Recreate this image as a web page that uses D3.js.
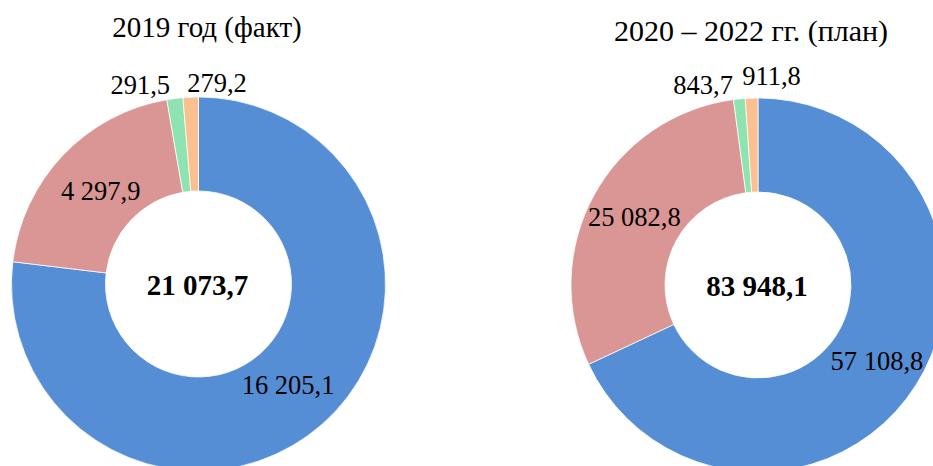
<!DOCTYPE html>
<html>
<head>
<meta charset="utf-8">
<script src="https://cdn.jsdelivr.net/npm/d3@7"></script>
<style>
  body { margin: 0; background: #fff; }
  text { font-family: "Liberation Serif", "Times New Roman", serif; fill: #000; }
</style>
</head>
<body>
<div id="chart"></div>
<script>
// данные
const titles = ["2019 год (факт)", "2020 – 2022 гг. (план)"];
const categories = ["Категория 1", "Категория 2", "Категория 3", "Категория 4"];
const values2019 = [16205.1, 4297.9, 291.5, 279.2];
const values2020 = [57108.8, 25082.8, 843.7, 911.8];
const totals = ["21 073,7", "83 948,1"];

const colors = ["#558ED5", "#D99694", "#8FE3B1", "#FAC090"];
const labelPlace = ["inside", "inside", "outside-end", "outside-start"];

const width = 933, height = 466;
const outerR = 187, innerR = 93;

const ru = d3.formatLocale({ decimal: ",", thousands: " ", grouping: [3] });
const fmt = ru.format(",.1f");

const svg = d3.select("#chart")
    .append("svg")
    .attr("width", width)
    .attr("height", height);

const xScale = d3.scalePoint()
    .domain(titles)
    .range([198.5, 758]);

const charts = [
    { title: titles[0], values: values2019, total: totals[0], cy: 284, titleX: 207, titleY: 36.5, titleSize: 29, labelR: 135, nudge: [[0, 0], [0, 0]] },
    { title: titles[1], values: values2020, total: totals[1], cy: 285, titleX: 751, titleY: 40.5, titleSize: 30, labelR: 141, nudge: [[-2, 0], [-6, -8]] }
];

const pie = d3.pie().sort(null).value(d => d.value);
const arc = d3.arc().innerRadius(innerR).outerRadius(outerR);

charts.forEach(c => {
    const cx = xScale(c.title);
    const data = c.values.map((v, i) => ({ name: categories[i], value: v, i }));
    const arcs = pie(data);

    // заголовок
    svg.append("text")
        .attr("x", c.titleX)
        .attr("y", c.titleY)
        .attr("text-anchor", "middle")
        .style("font-size", c.titleSize + "px")
        .text(c.title);

    const g = svg.append("g")
        .attr("transform", `translate(${cx},${c.cy})`);

    g.selectAll("path")
        .data(arcs)
        .enter()
        .append("path")
        .attr("d", arc)
        .attr("fill", d => colors[d.data.i])
        .attr("stroke", "#fff")
        .attr("stroke-width", 0.75);

    // подписи
    arcs.forEach(d => {
        const place = labelPlace[d.data.i];
        const mid = (d.startAngle + d.endAngle) / 2;
        let x, y, anchor;
        if (place === "inside") {
            x = Math.sin(mid) * c.labelR;
            y = -Math.cos(mid) * c.labelR;
            anchor = "middle";
        } else {
            const r = outerR + 14;
            const k = place === "outside-end" ? 0 : 1;
            x = Math.sin(mid) * r - 3 + c.nudge[k][0];
            y = -Math.cos(mid) * r + c.nudge[k][1];
            anchor = place === "outside-end" ? "end" : "start";
        }
        g.append("text")
            .attr("x", x)
            .attr("y", y)
            .attr("text-anchor", anchor)
            .attr("dominant-baseline", "central")
            .style("font-size", "26.5px")
            .text(fmt(d.data.value));
    });

    // итог в центре
    g.append("text")
        .attr("x", -1)
        .attr("y", 1)
        .attr("text-anchor", "middle")
        .attr("dominant-baseline", "central")
        .style("font-size", "29px")
        .style("font-weight", "bold")
        .text(c.total);
});
</script>
</body>
</html>
